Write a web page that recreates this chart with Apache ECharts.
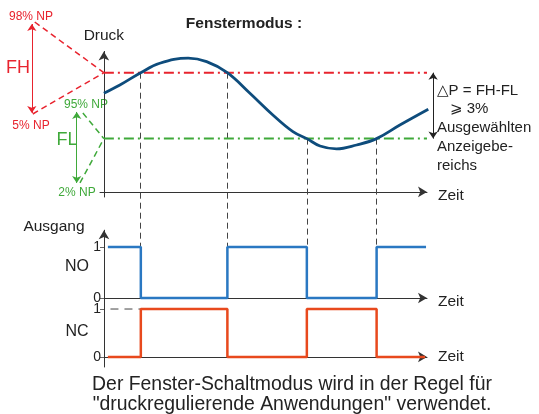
<!DOCTYPE html>
<html>
<head>
<meta charset="utf-8">
<script src="https://cdn.jsdelivr.net/npm/echarts@6/dist/echarts.min.js"></script>
<style>
  html, body { margin: 0; padding: 0; background: #fff; }
  #main { width: 539px; height: 414px; }
</style>
</head>
<body>
<div id="main"></div>
<script>
// pressure curve (time 0..100, pressure in % of the drawn range)
const curveTime = [0, 4.95, 11.4, 17.3, 26.1, 31.8, 38.2, 45.2, 52.3, 58.5, 62.8, 66.9, 72.0, 78.2, 84.4, 91.6, 100.4];
const curvePressure = [68.1, 73.8, 82.3, 88.8, 92.3, 89.9, 82.3, 68.1, 53.1, 41.6, 36.8, 31.7, 29.7, 32.4, 36.8, 46.2, 57.1];

// switching thresholds
const fhLevel = 82.3;
const flLevel = 36.8;

// moments where the curve crosses FH / FL
const switchTimes = [11.4, 38.2, 62.8, 84.4];
const switchThresholds = [fhLevel, fhLevel, flLevel, flLevel];

// output signals
const outStart = 1.2;
const outEnd = [99.7, 99.4];
const noLevels = [1, 0, 1, 0, 1];
const ncLevels = [0, 1, 0, 1, 0];
const outTicks = [0, 1];

// left hand brackets (FH 98%..5% NP, FL 95%..2% NP)
const fhRange = { x: -22.3, top: 115.9, bottom: 54.5, from: [[-21.4, 117.3], [-22.0, 53.8]] };
const flRange = { x: -8.4, top: 55.2, bottom: 6.2, from: [[-6.5, 54.5], [-7.4, 6.2]] };
const deltaX = 101.9;

const FONT = 'Liberation Sans, Arial, DejaVu Sans, sans-serif';
const RED = '#e8232e';
const GREEN = '#3fa93a';
const AXIS = '#333';

function stepData(levels, end) {
  const times = [outStart].concat(switchTimes);
  const pts = levels.map((v, i) => [times[i], v]);
  pts.push([end, levels[levels.length - 1]]);
  return pts;
}

function xAxisCfg(idx, min, lowered) {
  const nameStyle = { fontSize: 15.5, color: '#222', fontFamily: FONT };
  if (lowered) {
    // sit the label a little under the arrow like in the drawing
    nameStyle.verticalAlign = 'top';
    nameStyle.lineHeight = 8;
  }
  return {
    type: 'value', gridIndex: idx, min: min, max: 100,
    name: 'Zeit', nameLocation: 'end', nameGap: 11,
    nameTextStyle: nameStyle,
    axisLine: { onZero: true, symbol: ['none', 'arrow'], symbolSize: [8, 9], lineStyle: { color: AXIS, width: 1 } },
    axisTick: { show: false }, axisLabel: { show: false }, splitLine: { show: false }
  };
}

function outYAxis(idx, min, max, arrow) {
  return {
    type: 'value', gridIndex: idx, min: min, max: max,
    axisLine: { show: true, onZero: false, symbol: arrow ? ['none', 'arrow'] : 'none', symbolSize: [8, 9], lineStyle: { color: AXIS, width: 1 } },
    axisTick: { show: true, length: 4, customValues: outTicks, lineStyle: { color: '#666' } },
    axisLabel: { customValues: outTicks, fontSize: 14, color: '#222', fontFamily: FONT, margin: 3, padding: [0, 0, 4, 0] },
    splitLine: { show: false }
  };
}

function text(str, x, y, opts) {
  return {
    type: 'text', x: x, y: y, silent: true,
    style: Object.assign({
      text: str, fontSize: 15, fontFamily: FONT, fill: '#222',
      align: 'center', verticalAlign: 'middle'
    }, opts || {})
  };
}

const chart = echarts.init(document.getElementById('main'));

const option = {
  animation: false,
  backgroundColor: '#fff',
  grid: [
    { left: 100, top: 51.4, width: 327, height: 145.6 },
    { left: 104, top: 230.2, width: 323, height: 67.8 },
    { left: 104, top: 298, width: 323, height: 69 }
  ],
  xAxis: [xAxisCfg(0, -1.2, true), xAxisCfg(1, 0, true), xAxisCfg(2, 0, false)],
  yAxis: [
    {
      type: 'value', gridIndex: 0, min: -3.5, max: 97,
      name: 'Druck', nameLocation: 'end', nameGap: 8,
      nameTextStyle: { fontSize: 15.5, color: '#222', fontFamily: FONT },
      axisLine: { onZero: true, symbol: ['none', 'arrow'], symbolSize: [8, 9], lineStyle: { color: AXIS, width: 1 } },
      axisTick: { show: false }, axisLabel: { show: false }, splitLine: { show: false }
    },
    outYAxis(1, 0, 1.33, true),
    outYAxis(2, -0.21, 1.23, false)
  ],
  graphic: [
    text('Fenstermodus :', 244, 24, { fontSize: 15.5, fontWeight: 'bold' }),
    text('98% NP', 31, 17, { fontSize: 12, fill: RED }),
    text('5% NP', 31, 125.5, { fontSize: 12, fill: RED }),
    text('FH', 18, 68, { fontSize: 18, fill: RED }),
    text('95% NP', 86, 105, { fontSize: 12, fill: GREEN }),
    text('FL', 67, 140, { fontSize: 18, fill: GREEN }),
    text('2% NP', 77, 193, { fontSize: 12, fill: GREEN }),
    text('\u25B3P = FH-FL', 437, 91, { align: 'left' }),
    text('\u2A7E 3%', 450, 109, { align: 'left' }),
    text('Ausgewählten', 437, 128, { align: 'left' }),
    text('Anzeigebe-', 437, 147, { align: 'left' }),
    text('reichs', 437, 166, { align: 'left' }),
    text('Ausgang', 54, 227, { fontSize: 15.5 }),
    text('NO', 77, 267, { fontSize: 16 }),
    text('NC', 77, 332, { fontSize: 16 }),
    text('Der Fenster-Schaltmodus wird in der Regel für', 292, 385, { fontSize: 19.4 }),
    text('"druckregulierende Anwendungen" verwendet.', 292, 405, { fontSize: 19.4 })
  ],
  series: [
    {
      id: 'fh', type: 'line', xAxisIndex: 0, yAxisIndex: 0, symbol: 'none', silent: true,
      data: [[0, fhLevel], [100, fhLevel]],
      lineStyle: { color: RED, width: 2, type: [10, 4, 2, 4] }
    },
    {
      id: 'fl', type: 'line', xAxisIndex: 0, yAxisIndex: 0, symbol: 'none', silent: true,
      data: [[0, flLevel], [100, flLevel]],
      lineStyle: { color: GREEN, width: 2, type: [10, 4, 2, 4] }
    },
    {
      id: 'drops', type: 'lines', coordinateSystem: 'cartesian2d', xAxisIndex: 0, yAxisIndex: 0,
      clip: false, silent: true, data: [],
      lineStyle: { color: '#444', width: 1, type: [6, 4], opacity: 1 }
    },
    {
      id: 'curve', type: 'line', xAxisIndex: 0, yAxisIndex: 0, symbol: 'none', smooth: 0.4, clip: false, silent: true,
      data: curveTime.map((t, i) => [t, curvePressure[i]]),
      lineStyle: { color: '#0e4c7c', width: 2.8 }, z: 5
    },
    {
      id: 'brackets', type: 'lines', coordinateSystem: 'cartesian2d', xAxisIndex: 0, yAxisIndex: 0,
      clip: false, silent: true,
      data: [
        { coords: [fhRange.from[0], [0, fhLevel]], lineStyle: { color: RED, type: [6, 4] } },
        { coords: [fhRange.from[1], [0, fhLevel]], lineStyle: { color: RED, type: [6, 4] } },
        { coords: [flRange.from[0], [0, flLevel]], lineStyle: { color: GREEN, type: [6, 4] } },
        { coords: [flRange.from[1], [0, flLevel]], lineStyle: { color: GREEN, type: [6, 4] } }
      ],
      lineStyle: { width: 1.5, opacity: 1 }
    },
    {
      id: 'arrows', type: 'lines', coordinateSystem: 'cartesian2d', xAxisIndex: 0, yAxisIndex: 0,
      clip: false, silent: true, symbol: ['arrow', 'arrow'], symbolSize: 7,
      data: [
        { coords: [[fhRange.x, fhRange.top], [fhRange.x, fhRange.bottom]], lineStyle: { color: RED } },
        { coords: [[flRange.x, flRange.top], [flRange.x, flRange.bottom]], lineStyle: { color: GREEN } },
        { coords: [[deltaX, fhLevel], [deltaX, flLevel]], lineStyle: { color: '#222' } }
      ],
      lineStyle: { width: 1, opacity: 1 }
    },
    {
      id: 'ncGuide', type: 'line', xAxisIndex: 2, yAxisIndex: 2, symbol: 'none', silent: true,
      data: [[2, 1], [switchTimes[0], 1]],
      lineStyle: { color: '#444', width: 1, type: [8, 6] }
    },
    {
      id: 'no', type: 'line', xAxisIndex: 1, yAxisIndex: 1, symbol: 'none', step: 'end', clip: false, silent: true,
      data: stepData(noLevels, outEnd[0]),
      lineStyle: { color: '#2a78c2', width: 2.5 }, z: 5
    },
    {
      id: 'nc', type: 'line', xAxisIndex: 2, yAxisIndex: 2, symbol: 'none', step: 'end', clip: false, silent: true,
      data: stepData(ncLevels, outEnd[1]),
      lineStyle: { color: '#e8491d', width: 2.5 }, z: 5
    }
  ]
};

chart.setOption(option);

// dashed drop lines run from the crossing point down to the NO "1" level
const noHighPx = chart.convertToPixel({ gridIndex: 1 }, [0, 1]);
const dropTo = chart.convertFromPixel({ gridIndex: 0 }, noHighPx)[1];
chart.setOption({
  series: [{
    id: 'drops',
    data: switchTimes.map((t, i) => ({ coords: [[t, switchThresholds[i]], [t, dropTo]] }))
  }]
});
</script>
</body>
</html>
